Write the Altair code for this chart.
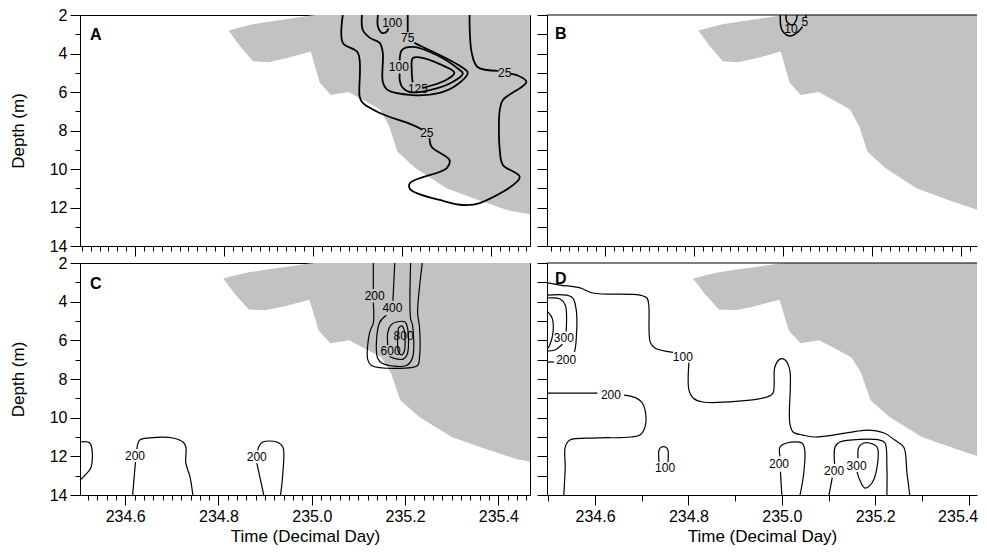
import altair as alt
import pandas as pd

FONT = "Liberation Sans"

# ---------------- shaded (stippled) region, same in every panel ----------------
shade_day   = [234.81, 234.835, 234.865, 234.90, 234.94, 234.995, 235.005, 235.015, 235.04, 235.08,
               235.12, 235.15, 235.17, 235.19, 235.23, 235.30, 235.37, 235.44, 235.50]
shade_upper = [2.80, 2.65, 2.48, 2.35, 2.22, 2.03, 2.0, 2.0, 2.0, 2.0,
               2.0, 2.0, 2.0, 2.0, 2.0, 2.0, 2.0, 2.0, 2.0]
shade_lower = [2.80, 3.60, 4.40, 4.45, 4.25, 3.90, 4.70, 5.50, 6.15, 6.00,
               6.50, 6.90, 7.70, 9.10, 9.95, 11.00, 11.60, 12.15, 12.40]

# ---------------- contour segments (day, depth) ----------------
# Panel A
a25_1 = [(235.067, 2.0), (235.067, 3.45), (235.101, 3.97), (235.105, 6.26), (235.112, 6.57),
         (235.150, 7.09), (235.224, 7.71), (235.245, 7.95)]
a25_2 = [(235.262, 8.40), (235.267, 8.86), (235.307, 9.53), (235.301, 9.95), (235.218, 10.73),
         (235.218, 11.04), (235.233, 11.25), (235.285, 11.61), (235.337, 11.87), (235.375, 11.77),
         (235.465, 10.42), (235.427, 9.79), (235.420, 9.01), (235.420, 6.94), (235.427, 6.42),
         (235.480, 5.48), (235.458, 5.12), (235.445, 5.06)]
a25_3 = [(235.417, 4.90), (235.370, 4.70), (235.357, 3.97), (235.352, 2.0)]
a75_1 = [(235.110, 2.0), (235.112, 2.78), (235.128, 3.19), (235.150, 3.45), (235.157, 3.97),
         (235.157, 5.48), (235.168, 5.90), (235.224, 6.16), (235.285, 6.05), (235.323, 5.64),
         (235.348, 5.01), (235.334, 4.70), (235.285, 4.08), (235.247, 3.66), (235.228, 3.45)]
a75_2 = [(235.213, 2.90), (235.213, 2.0)]
a100_top = [(235.146, 2.0), (235.146, 2.60), (235.155, 2.93), (235.165, 2.88), (235.170, 2.70)]
a100 = [(235.195, 5.05), (235.195, 5.38), (235.202, 5.79), (235.218, 6.00), (235.263, 5.90),
        (235.314, 5.48), (235.337, 5.03), (235.330, 4.86), (235.278, 4.08), (235.224, 3.66),
        (235.200, 3.82), (235.195, 4.35)]
a125 = [(235.248, 5.78), (235.296, 5.42), (235.318, 5.00), (235.285, 4.55), (235.240, 4.20),
        (235.224, 4.25), (235.222, 4.86), (235.224, 5.50)]
# Panel B
b5_1 = [(234.994, 2.0), (234.998, 2.78), (235.016, 3.09), (235.034, 2.88), (235.044, 2.60)]
b5_2 = [(235.051, 2.15), (235.052, 2.0)]
b10 = [(235.007, 2.0), (235.009, 2.36), (235.021, 2.52), (235.030, 2.26), (235.032, 2.0)]
# Panel C
c200_1 = [(235.132, 2.0), (235.132, 3.35)]
c200_2 = [(235.132, 4.05), (235.132, 5.10), (235.124, 5.60), (235.120, 7.00), (235.128, 7.30),
          (235.182, 7.45), (235.227, 7.30), (235.231, 6.90), (235.231, 5.30), (235.227, 4.60),
          (235.230, 3.50), (235.237, 2.0)]
c400_1 = [(235.178, 2.0), (235.176, 3.00), (235.174, 3.95)]
c400_2 = [(235.160, 4.70), (235.145, 5.10), (235.141, 6.90), (235.152, 7.20), (235.203, 7.30),
          (235.216, 6.90), (235.216, 5.20), (235.212, 4.90), (235.212, 2.0)]
c600 = [(235.163, 6.25), (235.163, 5.60), (235.170, 5.20), (235.182, 5.05), (235.200, 5.05),
        (235.205, 5.30), (235.205, 6.70), (235.196, 6.97), (235.175, 6.92), (235.167, 6.82)]
c800 = [(235.186, 5.35), (235.193, 5.25), (235.198, 5.45), (235.198, 6.60), (235.192, 6.75),
        (235.186, 6.60), (235.184, 6.00), (235.186, 5.35)]
c200_edge = [(234.503, 11.26), (234.524, 11.31), (234.527, 12.55), (234.514, 12.97), (234.503, 13.23)]
c200_b1_1 = [(234.616, 14.0), (234.621, 12.55), (234.622, 12.30)]
c200_b1_2 = [(234.625, 11.62), (234.631, 11.16), (234.653, 11.05), (234.702, 11.05), (234.724, 11.26),
             (234.730, 11.52), (234.730, 12.35), (234.739, 13.07), (234.745, 14.0)]
c200_b2_1 = [(234.897, 14.0), (234.884, 12.55), (234.882, 12.35)]
c200_b2_2 = [(234.884, 11.70), (234.886, 11.52), (234.895, 11.26), (234.925, 11.26), (234.938, 11.52),
             (234.938, 12.86), (234.933, 14.0)]
# Panel D
d100_1 = [(234.499, 3.03), (234.525, 3.14), (234.568, 3.29), (234.595, 3.55), (234.696, 3.66),
          (234.711, 3.81), (234.715, 4.17), (234.718, 6.09), (234.728, 6.40), (234.767, 6.62)]
d100_2 = [(234.801, 7.15), (234.801, 8.57), (234.810, 8.98), (234.831, 9.19), (234.968, 8.93),
          (234.981, 8.73), (234.985, 7.38), (234.996, 6.97), (235.007, 7.02), (235.017, 7.54),
          (235.017, 10.28), (235.024, 10.74), (235.045, 10.90), (235.069, 11.00), (235.139, 10.79),
          (235.182, 10.64), (235.219, 10.79), (235.242, 11.16), (235.261, 11.52), (235.268, 12.86),
          (235.274, 14.0)]
d200_1 = [(234.499, 8.73), (234.605, 8.73)]
d200_2 = [(234.662, 8.83), (234.685, 8.95), (234.700, 9.20), (234.707, 9.60), (234.707, 10.48),
          (234.696, 10.90), (234.604, 11.05), (234.546, 11.16), (234.536, 11.52), (234.536, 12.55),
          (234.533, 14.0)]
d100_small = [(234.737, 12.30), (234.737, 11.67), (234.742, 11.52), (234.751, 11.52), (234.756, 11.67),
              (234.756, 12.30)]
d200_m_1 = [(235.000, 14.0), (234.997, 12.80)]
d200_m_2 = [(234.996, 12.00), (234.996, 11.52), (235.011, 11.31), (235.043, 11.31), (235.049, 11.67),
            (235.047, 12.86), (235.039, 14.0)]
d200_r_1 = [(235.101, 14.0), (235.108, 13.10)]
d200_r_2 = [(235.113, 12.40), (235.114, 11.52), (235.124, 11.26), (235.210, 11.16), (235.221, 11.31),
            (235.225, 12.55), (235.225, 14.0)]
d300_r = [(235.163, 12.10), (235.165, 11.52), (235.176, 11.31), (235.187, 11.31), (235.204, 11.52),
          (235.204, 12.55), (235.193, 13.38), (235.178, 13.64), (235.167, 13.23), (235.161, 12.80)]
d200_ul_1 = [(234.499, 7.12), (234.512, 7.12)]
d200_ul_2 = [(234.556, 6.60), (234.559, 6.14), (234.559, 4.33), (234.550, 3.76), (234.499, 3.66)]
d300_ul_1 = [(234.499, 3.81), (234.525, 3.86), (234.536, 4.17), (234.538, 5.55)]
d300_ul_2 = [(234.530, 6.20), (234.514, 6.50), (234.499, 6.55)]
d400_ul = [(234.499, 4.53), (234.508, 4.85), (234.510, 5.57), (234.503, 6.24), (234.499, 6.40)]

SEGMENTS = [
    ("A", "a25_1", a25_1), ("A", "a25_2", a25_2), ("A", "a25_3", a25_3),
    ("A", "a75_1", a75_1), ("A", "a75_2", a75_2), ("A", "a100_top", a100_top),
    ("A", "a100", a100), ("A", "a125", a125),
    ("B", "b5_1", b5_1), ("B", "b5_2", b5_2), ("B", "b10", b10),
    ("C", "c200_1", c200_1), ("C", "c200_2", c200_2), ("C", "c400_1", c400_1),
    ("C", "c400_2", c400_2), ("C", "c600", c600), ("C", "c800", c800),
    ("C", "c200_edge", c200_edge), ("C", "c200_b1_1", c200_b1_1), ("C", "c200_b1_2", c200_b1_2),
    ("C", "c200_b2_1", c200_b2_1), ("C", "c200_b2_2", c200_b2_2),
    ("D", "d100_1", d100_1), ("D", "d100_2", d100_2), ("D", "d200_1", d200_1),
    ("D", "d200_2", d200_2), ("D", "d100_small", d100_small), ("D", "d200_m_1", d200_m_1),
    ("D", "d200_m_2", d200_m_2), ("D", "d200_r_1", d200_r_1), ("D", "d200_r_2", d200_r_2),
    ("D", "d300_r", d300_r), ("D", "d200_ul_1", d200_ul_1), ("D", "d200_ul_2", d200_ul_2),
    ("D", "d300_ul_1", d300_ul_1), ("D", "d300_ul_2", d300_ul_2), ("D", "d400_ul", d400_ul),
]

# contour labels (panel, day, depth, text)
LABELS = [
    ("A", 235.256, 8.13, "25"), ("A", 235.431, 5.01, "25"), ("A", 235.213, 3.22, "75"),
    ("A", 235.178, 2.42, "100"), ("A", 235.193, 4.72, "100"), ("A", 235.236, 5.84, "125"),
    ("B", 235.018, 2.73, "10"), ("B", 235.049, 2.36, "5"),
    ("C", 235.135, 3.71, "200"), ("C", 235.173, 4.33, "400"), ("C", 235.197, 5.78, "800"),
    ("C", 235.169, 6.55, "600"), ("C", 234.621, 11.98, "200"), ("C", 234.882, 12.04, "200"),
    ("D", 234.788, 6.86, "100"), ("D", 234.634, 8.83, "200"), ("D", 234.750, 12.61, "100"),
    ("D", 234.994, 12.40, "200"), ("D", 235.112, 12.76, "200"), ("D", 235.160, 12.48, "300"),
    ("D", 234.538, 7.02, "200"), ("D", 234.533, 5.88, "300"),
]

# tick positions
ticks_top_left = [round(234.48 + 0.02 * i, 2) for i in range(51)]
ticks_top_right = [round(234.48 + 0.02 * i, 2) for i in range(48)]
ticks_bottom_left = [round(234.52 + 0.02 * i, 2) for i in range(48)]
ticks_bottom_right = [round(234.5 + 0.1 * i, 1) for i in range(10)]
depth_ticks = list(range(2, 15))

PANELS = {
    "A": dict(xdom=[234.476, 235.488], w=450, h=231, xticks=ticks_top_left, minor=5,
              xlabels=False, left=True, lw=1.8, lx=10, ly=12),
    "B": dict(xdom=[234.470, 235.436], w=430, h=231, xticks=ticks_top_right, minor=5,
              xlabels=False, left=False, lw=1.5, lx=8, ly=11),
    "C": dict(xdom=[234.503, 235.468], w=450, h=232, xticks=ticks_bottom_left, minor=5,
              xlabels=True, left=True, lw=1.2, lx=10, ly=13),
    "D": dict(xdom=[234.497, 235.418], w=430, h=232, xticks=ticks_bottom_right, minor=6,
              xlabels=True, left=False, lw=1.2, lx=8, ly=8),
}

shade_df = pd.DataFrame({"day": shade_day, "upper": shade_upper, "lower": shade_lower})


def make_panel(key):
    cfg = PANELS[key]
    xscale = alt.Scale(domain=cfg["xdom"], nice=False, zero=False)
    yscale = alt.Scale(domain=[2, 14], reverse=True, nice=False, zero=False)

    xaxis = alt.Axis(
        values=cfg["xticks"],
        tickSize={"condition": {"test": "round(datum.value*100) % 20 == 0", "value": 10},
                  "value": cfg["minor"]},
        labels=cfg["xlabels"],
        labelExpr="round(datum.value*100) % 20 == 0 ? format(datum.value, '.1f') : ''",
        labelOffset={"condition": {"test": "datum.value > 235.35 && datum.value < 235.41",
                                   "value": -11 if not cfg["left"] else 0},
                     "value": 0},
        labelOverlap=False, labelFlush=False, labelFontSize=16, labelPadding=3,
        title="Time (Decimal Day)" if cfg["xlabels"] else None,
        titleFontSize=17, titlePadding=4,
    )
    if cfg["left"]:
        yaxis = alt.Axis(
            values=depth_ticks,
            tickSize={"condition": {"test": "datum.value % 2 == 0", "value": 10}, "value": 5},
            labelExpr="datum.value % 2 == 0 ? datum.label : ''",
            labelOverlap=False, labelFontSize=16, labelPadding=3,
            title="Depth (m)", titleFontSize=17, titlePadding=22,
        )
    else:
        yaxis = alt.Axis(values=depth_ticks, tickSize=10, labels=False, title=None)

    X = alt.X("day:Q", scale=xscale, axis=xaxis)

    shade = alt.Chart(shade_df).mark_area(color="#c2c2c2", clip=True).encode(
        x=X,
        y=alt.Y("lower:Q", scale=yscale, axis=yaxis),
        y2="upper:Q",
    )

    rows = []
    for panel, name, pts in SEGMENTS:
        if panel != key:
            continue
        for i, (d, z) in enumerate(pts):
            rows.append({"seg": name, "i": i, "day": d, "depth": z})
    seg_df = pd.DataFrame(rows)
    lines = alt.Chart(seg_df).mark_line(
        color="black", strokeWidth=cfg["lw"], interpolate="catmull-rom", clip=True
    ).encode(
        x=X,
        y=alt.Y("depth:Q", scale=yscale, axis=yaxis),
        detail="seg:N",
        order="i:Q",
    )

    lab_df = pd.DataFrame([{"day": d, "depth": z, "t": t} for p, d, z, t in LABELS if p == key])
    labels = alt.Chart(lab_df).mark_text(
        font=FONT, fontSize=12, color="black", align="center", baseline="middle"
    ).encode(
        x=X,
        y=alt.Y("depth:Q", scale=yscale, axis=yaxis),
        text="t:N",
    )

    letter = alt.Chart(pd.DataFrame({"t": [key]})).mark_text(
        font=FONT, fontSize=16, fontWeight="bold", color="black", align="left", baseline="top"
    ).encode(x=alt.value(cfg["lx"]), y=alt.value(cfg["ly"]), text="t:N")

    layers = [shade, lines, labels, letter]
    if not cfg["left"]:
        # top frame line (the right edge of these panels is cut off in the figure)
        top_rule = alt.Chart(pd.DataFrame({"d": [2.0]})).mark_rule(color="black", strokeWidth=1).encode(
            y=alt.Y("d:Q", scale=yscale, axis=yaxis)
        )
        layers.append(top_rule)
        return alt.layer(*layers).properties(
            width=cfg["w"], height=cfg["h"], view=alt.ViewBackground(stroke="transparent")
        )
    return alt.layer(*layers).properties(width=cfg["w"], height=cfg["h"])


chart = alt.concat(
    make_panel("A"), make_panel("B"), make_panel("C"), make_panel("D"),
    columns=2, spacing=17, bounds="flush",
).properties(
    padding={"left": 0, "top": -2, "right": 0, "bottom": 0}
).configure_view(
    stroke="black", strokeWidth=1
).configure_axis(
    domainColor="black", tickColor="black", labelColor="black", titleColor="black",
    labelFont=FONT, titleFont=FONT, titleFontWeight="normal", grid=False,
    domainWidth=1, tickWidth=1,
)

chart.save("out.html", embed_options={"renderer": "svg", "actions": False})
